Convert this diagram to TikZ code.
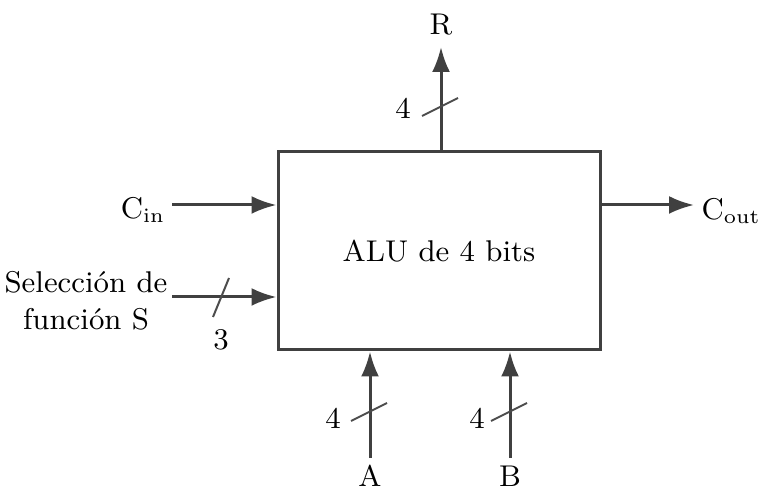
\documentclass[tikz,border=0pt]{standalone}
\usetikzlibrary{arrows.meta,positioning}
\tikzset{
  bus/.style={line width=0.9pt,draw=black!75,-{Latex[length=7.5pt,width=5.4pt]}},
  tick/.style={line width=0.6pt,draw=black!70},
  lbl/.style={inner sep=0pt,font=\fontsize{9}{11}\selectfont}
}
\begin{document}
\begin{tikzpicture}[x=0.3pt,y=-0.3pt,line cap=butt,line join=miter]
  \useasboundingbox (0,0) rectangle (761,490);
  % ALU block
  \node[draw=black!75,line width=0.9pt,minimum width=96.6pt,minimum height=59.4pt,
        inner sep=0pt,lbl] (alu) at (439,251) {ALU de 4 bits};
  % output R
  \coordinate (rtop) at (441,47);
  \node[lbl] (r) at (441,25) {R};
  \draw[bus] (alu.north -| rtop) -- (rtop);
  \draw[tick] (422,116) -- (458,98);
  \node[lbl] (rn) at (403,108) {4};
  % carry in
  \coordinate (cinstart) at (172,205);
  \node[lbl,anchor=east] (cin) at (166,210) {C$_{\mathrm{in}}$};
  \draw[bus] (cinstart) -- (alu.west |- cinstart);
  % function select
  \coordinate (selstart) at (172,297);
  \node[lbl,align=center] (sel) at (86,301) {Selección de\\función S};
  \draw[bus] (selstart) -- (alu.west |- selstart);
  \draw[tick] (213,317) -- (229,278);
  \node[lbl] (seln) at (221,340) {3};
  % carry out
  \coordinate (coutend) at (694,205);
  \node[lbl,anchor=west] (cout) at (701,211) {C$_{\mathrm{out}}$};
  \draw[bus] (alu.east |- coutend) -- (coutend);
  % inputs A and B
  \coordinate (astart) at (370,458);
  \coordinate (bstart) at (510,458);
  \node[lbl] (a) at (370,476) {A};
  \node[lbl] (b) at (510,476) {B};
  \draw[bus] (astart) -- (alu.south -| astart);
  \draw[bus] (bstart) -- (alu.south -| bstart);
  \draw[tick] (351,421) -- (387,403);
  \draw[tick] (491,421) -- (527,403);
  \node[lbl] (an) at (333,418) {4};
  \node[lbl] (bn) at (477,418) {4};
\end{tikzpicture}
\end{document}
